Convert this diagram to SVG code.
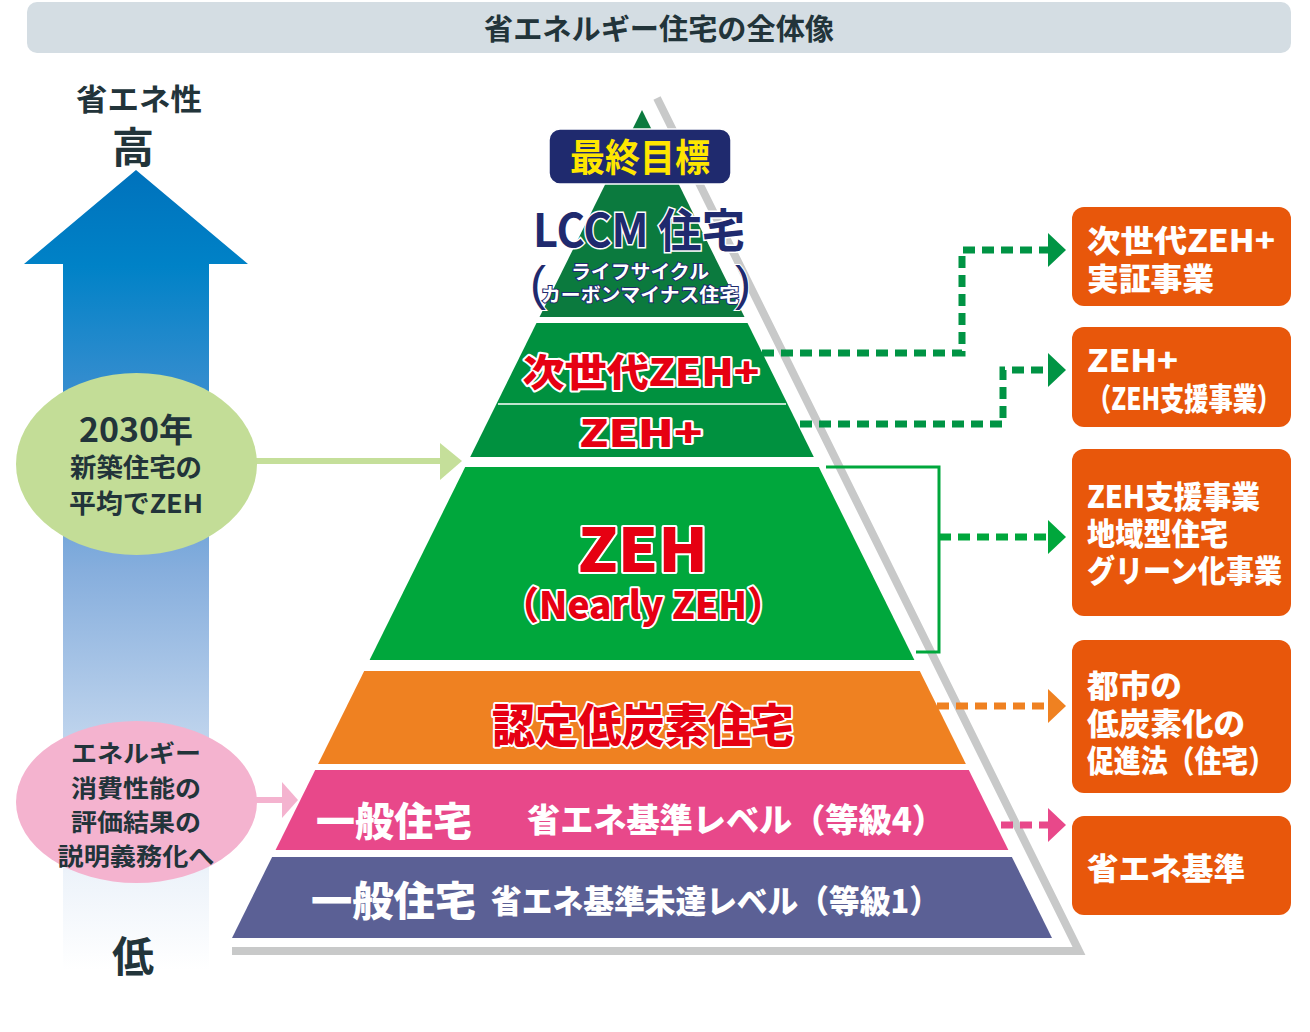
<svg xmlns="http://www.w3.org/2000/svg" width="1310" height="1032" viewBox="0 0 1310 1032">
<defs>
<linearGradient id="gArrow" gradientUnits="userSpaceOnUse" x1="0" y1="170" x2="0" y2="970">
<stop offset="0" stop-color="#0072bc"/>
<stop offset="0.12" stop-color="#0082c7"/>
<stop offset="0.3" stop-color="#3f8fd0"/>
<stop offset="0.5" stop-color="#86aedd"/>
<stop offset="0.7" stop-color="#bcd2ec"/>
<stop offset="0.88" stop-color="#edf3fa"/>
<stop offset="1" stop-color="#ffffff"/>
</linearGradient>
<style>
text{font-family:"Noto Sans CJK JP","Noto Sans",sans-serif;font-weight:700}
.dark{fill:#22343a}
.red{fill:#e60012;stroke:#ffffff;stroke-width:4;paint-order:stroke;stroke-linejoin:round;font-weight:900}
.wt{fill:#ffffff;font-weight:900}
.box{fill:#e8570b}
.boxt{fill:#ffffff;font-size:31px;font-weight:900}
.dotG{fill:none;stroke:#009444;stroke-width:7;stroke-dasharray:12 7}
.dotZ{fill:none;stroke:#00a73c;stroke-width:7;stroke-dasharray:12 7}
.dotO{fill:none;stroke:#ef8121;stroke-width:7;stroke-dasharray:12 7}
.dotP{fill:none;stroke:#e8488a;stroke-width:7;stroke-dasharray:12 7}
</style>
</defs>
<rect width="1310" height="1032" fill="#ffffff"/>

<g id="title">
<rect x="27" y="2" width="1264" height="51" rx="10" fill="#d4dde3"/>
<text x="659" y="40" font-size="29" text-anchor="middle" class="dark" textLength="350" lengthAdjust="spacingAndGlyphs">省エネルギー住宅の全体像</text>
</g>

<g id="axis">
<polygon points="136,170 248,264 209,264 209,970 63,970 63,264 24,264" fill="url(#gArrow)"/>
<text x="139" y="110" font-size="30" text-anchor="middle" class="dark" textLength="126" lengthAdjust="spacingAndGlyphs">省エネ性</text>
<text x="133" y="163" font-size="42" text-anchor="middle" class="dark">高</text>
<text x="133" y="972" font-size="42" text-anchor="middle" class="dark">低</text>
</g>

<g id="shadow">
<path d="M657,98 L1079,951 L232,951" fill="none" stroke="#c8c9c9" stroke-width="8" stroke-linejoin="miter"/>
</g>

<g id="layer-lccm">
<polygon points="642,110 744.5,317 539.5,317" fill="#0b7a3e"/>
</g>
<g id="layer-zehplus">
<polygon points="536.5,323 747.5,323 813.8,457 470.2,457" fill="#00913f"/>
<line x1="498" y1="404" x2="786" y2="404" stroke="#ffffff" stroke-width="1.5"/>
<text x="641" y="386" font-size="38" text-anchor="middle" class="red" textLength="237" lengthAdjust="spacingAndGlyphs">次世代ZEH+</text>
<text x="641" y="447" font-size="38" text-anchor="middle" class="red" textLength="123" lengthAdjust="spacingAndGlyphs">ZEH+</text>
</g>
<g id="layer-zeh">
<polygon points="465.2,467 818.8,467 914.4,660 369.6,660" fill="#00a73c"/>
<text x="643" y="572" font-size="60" text-anchor="middle" class="red" textLength="130" lengthAdjust="spacingAndGlyphs">ZEH</text>
<text x="643" y="619" font-size="38" text-anchor="middle" class="red" textLength="282" lengthAdjust="spacingAndGlyphs">（Nearly ZEH）</text>
</g>
<g id="layer-lowcarbon">
<polygon points="364.2,671 919.8,671 965.9,764 318.1,764" fill="#ef8121"/>
<text x="643" y="742" font-size="46" text-anchor="middle" class="red" textLength="302" lengthAdjust="spacingAndGlyphs">認定低炭素住宅</text>
</g>
<g id="layer-grade4">
<polygon points="315.2,770 968.8,770 1008.4,850 275.6,850" fill="#e8488a"/>
<text x="316" y="836" font-size="40" class="wt" textLength="156" lengthAdjust="spacingAndGlyphs">一般住宅</text>
<text x="527" y="832" font-size="33" class="wt" textLength="418" lengthAdjust="spacingAndGlyphs">省エネ基準レベル（等級4）</text>
</g>
<g id="layer-grade1">
<polygon points="272.1,857 1011.9,857 1052,938 232,938" fill="#5b6095"/>
<text x="311" y="916" font-size="41" class="wt" textLength="165" lengthAdjust="spacingAndGlyphs">一般住宅</text>
<text x="491" y="913" font-size="32" class="wt" textLength="449" lengthAdjust="spacingAndGlyphs">省エネ基準未達レベル（等級1）</text>
</g>

<g id="goal">
<rect x="549" y="129" width="182" height="55" rx="11" fill="#1f2a6e" stroke="#ffffff" stroke-width="1.5"/>
<text x="640" y="171" font-size="38" text-anchor="middle" fill="#ffe600" font-weight="900" textLength="140" lengthAdjust="spacingAndGlyphs">最終目標</text>
</g>
<g id="lccm-label">
<text x="639" y="247" font-size="46" text-anchor="middle" fill="#1f2a6e" stroke="#ffffff" stroke-width="3" paint-order="stroke" textLength="212" lengthAdjust="spacingAndGlyphs">LCCM 住宅</text>
<text x="640" y="279" font-size="19" text-anchor="middle" fill="#ffffff" stroke="#1f2a6e" stroke-width="2" paint-order="stroke" textLength="138" lengthAdjust="spacingAndGlyphs">ライフサイクル</text>
<text x="640" y="302" font-size="19" text-anchor="middle" fill="#ffffff" stroke="#1f2a6e" stroke-width="2" paint-order="stroke" textLength="198" lengthAdjust="spacingAndGlyphs">カーボンマイナス住宅</text>
<text x="538" y="300" font-size="48" text-anchor="middle" fill="#1f2a6e" stroke="#ffffff" stroke-width="2" paint-order="stroke" style="font-family:'Liberation Sans',sans-serif;font-weight:400">(</text>
<text x="743" y="300" font-size="48" text-anchor="middle" fill="#1f2a6e" stroke="#ffffff" stroke-width="2" paint-order="stroke" style="font-family:'Liberation Sans',sans-serif;font-weight:400">)</text>
</g>

<g id="ellipse-2030">
<line x1="250" y1="461" x2="442" y2="461" stroke="#c5df9a" stroke-width="6"/>
<polygon points="440,443 462,461 440,480" fill="#c5df9a"/>
<ellipse cx="136.5" cy="464" rx="120.5" ry="91" fill="#c3dd97"/>
<text x="136" y="442" font-size="33" text-anchor="middle" class="dark" textLength="114" lengthAdjust="spacingAndGlyphs">2030年</text>
<text x="136" y="477" font-size="26" text-anchor="middle" class="dark" textLength="132" lengthAdjust="spacingAndGlyphs">新築住宅の</text>
<text x="136" y="513" font-size="26" text-anchor="middle" class="dark" textLength="134" lengthAdjust="spacingAndGlyphs">平均でZEH</text>
</g>

<g id="ellipse-duty">
<line x1="250" y1="800" x2="285" y2="800" stroke="#f4b3cf" stroke-width="6"/>
<polygon points="282,782 298,800 282,818" fill="#f4b3cf"/>
<ellipse cx="136.5" cy="802" rx="120.5" ry="81" fill="#f4b3cf"/>
<text x="136" y="762" font-size="24" text-anchor="middle" class="dark" textLength="130" lengthAdjust="spacingAndGlyphs">エネルギー</text>
<text x="136" y="797" font-size="24" text-anchor="middle" class="dark" textLength="130" lengthAdjust="spacingAndGlyphs">消費性能の</text>
<text x="136" y="831" font-size="24" text-anchor="middle" class="dark" textLength="130" lengthAdjust="spacingAndGlyphs">評価結果の</text>
<text x="136" y="865" font-size="24" text-anchor="middle" class="dark" textLength="157" lengthAdjust="spacingAndGlyphs">説明義務化へ</text>
</g>

<g id="connectors">
<path class="dotG" d="M762,353 H962 V250 H1048"/>
<polygon points="1048,233 1066,250 1048,267" fill="#009444"/>
<path class="dotG" d="M800,424 H1003 V370 H1048"/>
<polygon points="1048,353 1066,370 1048,387" fill="#009444"/>
<path d="M826,467 H939 V652 H916" fill="none" stroke="#00a73c" stroke-width="3"/>
<path class="dotZ" d="M939,537 H1048"/>
<polygon points="1048,520 1066,537 1048,554" fill="#00a73c"/>
<path class="dotO" d="M937,706 H1048"/>
<polygon points="1048,689 1066,706 1048,723" fill="#ef8121"/>
<path class="dotP" d="M1001,825 H1048"/>
<polygon points="1048,808 1066,825 1048,842" fill="#e8488a"/>
</g>

<g id="box-next-zeh">
<rect class="box" x="1072" y="207" width="219" height="99" rx="12"/>
<text class="boxt" x="1087" y="252" textLength="188" lengthAdjust="spacingAndGlyphs">次世代ZEH+</text>
<text class="boxt" x="1087" y="290" textLength="127" lengthAdjust="spacingAndGlyphs">実証事業</text>
</g>
<g id="box-zehplus">
<rect class="box" x="1072" y="327" width="219" height="100" rx="12"/>
<text class="boxt" x="1087" y="372" textLength="91" lengthAdjust="spacingAndGlyphs">ZEH+</text>
<text class="boxt" x="1087" y="410" font-size="29" textLength="194" lengthAdjust="spacingAndGlyphs">（ZEH支援事業）</text>
</g>
<g id="box-zeh">
<rect class="box" x="1072" y="449" width="219" height="167" rx="12"/>
<text class="boxt" x="1087" y="508" font-size="29" textLength="173" lengthAdjust="spacingAndGlyphs">ZEH支援事業</text>
<text class="boxt" x="1087" y="545" font-size="29" textLength="141" lengthAdjust="spacingAndGlyphs">地域型住宅</text>
<text class="boxt" x="1087" y="582" font-size="29" textLength="195" lengthAdjust="spacingAndGlyphs">グリーン化事業</text>
</g>
<g id="box-lowcarbon">
<rect class="box" x="1072" y="640" width="219" height="153" rx="12"/>
<text class="boxt" x="1087" y="697" textLength="95" lengthAdjust="spacingAndGlyphs">都市の</text>
<text class="boxt" x="1087" y="735" textLength="158" lengthAdjust="spacingAndGlyphs">低炭素化の</text>
<text class="boxt" x="1087" y="772" textLength="188" lengthAdjust="spacingAndGlyphs">促進法（住宅）</text>
</g>
<g id="box-standard">
<rect class="box" x="1072" y="816" width="219" height="99" rx="12"/>
<text class="boxt" x="1087" y="880" textLength="158" lengthAdjust="spacingAndGlyphs">省エネ基準</text>
</g>
</svg>
